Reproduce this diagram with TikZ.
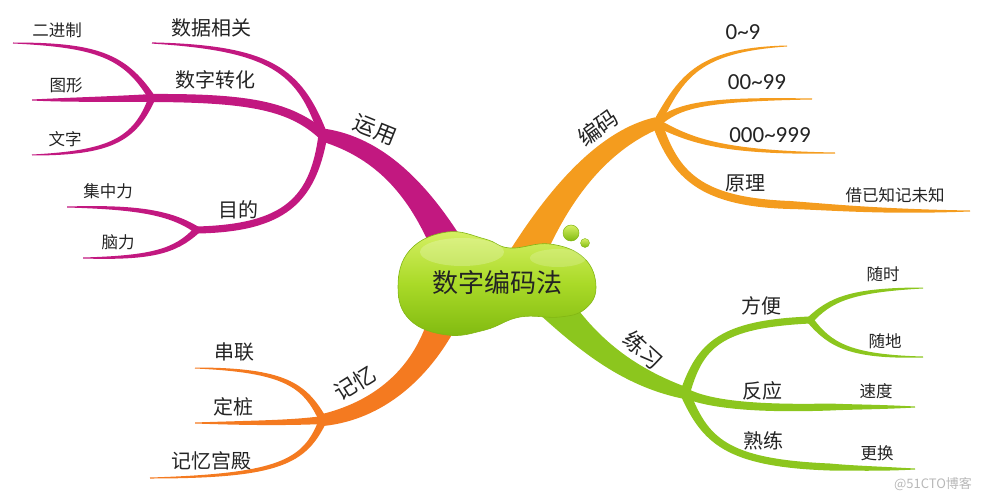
\documentclass[tikz,border=0pt]{standalone}
\usepackage{fontspec}
\setmainfont{Noto Sans CJK SC}
\newfontfamily\numfont{Carlito}
\usetikzlibrary{calc}
\definecolor{cMag}{RGB}{194,24,128}
\definecolor{cOra}{RGB}{244,156,30}
\definecolor{cGrn}{RGB}{140,198,30}
\definecolor{cRed}{RGB}{244,122,32}
\definecolor{blobTop}{RGB}{214,240,100}
\definecolor{blobMid}{RGB}{170,218,40}
\definecolor{blobBot}{RGB}{128,186,16}
\definecolor{blobEdge}{RGB}{130,182,20}
\definecolor{txt}{RGB}{35,35,35}
\newcommand{\mmbranch}[8]{%
  \fill[#1] ($(#5)!#2!90:(#6)$) .. controls ($(#6)!#3!90:(#7)$) and ($(#7)!#3!90:(#8)$) ..
    ($(#8)!#4!-90:(#7)$) -- ($(#8)!#4!90:(#7)$) .. controls ($(#7)!#3!-90:(#8)$) and ($(#6)!#3!-90:(#7)$) ..
    ($(#5)!#2!-90:(#6)$) -- cycle;}
\begin{document}
\begin{tikzpicture}[x=1pt,y=-1pt,
  lvl0/.style={inner sep=0pt,text=txt,font=\fontsize{26}{28}\selectfont},
  lvl1/.style={inner sep=0pt,text=txt,font=\fontsize{22}{24}\selectfont},
  lvl2/.style={inner sep=0pt,text=txt,font=\fontsize{20}{22}\selectfont},
  lvl3/.style={inner sep=0pt,text=txt,font=\fontsize{16.5}{18}\selectfont},
  num/.style={inner sep=0pt,text=txt,font=\numfont\fontsize{23}{25}\selectfont},
  wmark/.style={inner sep=0pt,text=black!28,font=\fontsize{13}{15}\selectfont}]
\useasboundingbox (0,0) rectangle (987,500);
% coordinates
\coordinate (mA) at (452,255);
\coordinate (J1) at (323,135);
\coordinate (J2) at (152,98);
\coordinate (J3) at (197,230);
\coordinate (t1) at (152,43);
\coordinate (t2) at (13,43);
\coordinate (t3) at (32,100);
\coordinate (t4) at (32,155);
\coordinate (t5) at (67,207);
\coordinate (t6) at (83,258);
\coordinate (oA) at (522,265);
\coordinate (J4) at (657,123);
\coordinate (J5) at (790,205);
\coordinate (t7) at (787,46);
\coordinate (t8) at (812,99);
\coordinate (t9) at (835,153);
\coordinate (t10) at (970,211);
\coordinate (gA) at (548,298);
\coordinate (J6) at (685,393);
\coordinate (J7) at (810,320);
\coordinate (J9) at (830,407);
\coordinate (J10) at (830,467);
\coordinate (t11) at (923,288);
\coordinate (t12) at (923,357);
\coordinate (t13) at (915,407);
\coordinate (t14) at (915,469);
\coordinate (rA) at (447,310);
\coordinate (J8) at (323,420);
\coordinate (t15) at (195,368);
\coordinate (t16) at (195,423);
\coordinate (t17) at (150,478);
% magenta
\mmbranch{cMag}{17pt}{11pt}{6.5pt}{mA}{420,190}{380,148}{J1}
\mmbranch{cMag}{4.5pt}{3pt}{0.6pt}{J1}{300,70}{270,48}{t1}
\mmbranch{cMag}{5pt}{4.5pt}{4pt}{J1}{290,106}{250,98}{J2}
\mmbranch{cMag}{4.5pt}{4pt}{3.5pt}{J1}{313,200}{285,228}{J3}
\mmbranch{cMag}{3.5pt}{2.5pt}{0.5pt}{J2}{125,55}{95,45}{t2}
\mmbranch{cMag}{4pt}{2.5pt}{0.5pt}{J2}{110,99}{70,100}{t3}
\mmbranch{cMag}{3.5pt}{2.5pt}{0.5pt}{J2}{135,140}{110,153}{t4}
\mmbranch{cMag}{3.5pt}{2.5pt}{0.5pt}{J3}{170,212}{135,207}{t5}
\mmbranch{cMag}{3.5pt}{2.5pt}{0.5pt}{J3}{175,252}{150,258}{t6}
% orange
\mmbranch{cOra}{18pt}{11pt}{6pt}{oA}{560,190}{605,140}{J4}
\mmbranch{cOra}{4pt}{2.5pt}{0.5pt}{J4}{682,75}{700,50}{t7}
\mmbranch{cOra}{4pt}{2.5pt}{0.5pt}{J4}{680,105}{705,99}{t8}
\mmbranch{cOra}{4pt}{2.5pt}{0.5pt}{J4}{690,140}{720,153}{t9}
\mmbranch{cOra}{5pt}{4.5pt}{4pt}{J4}{675,175}{700,202}{J5}
\mmbranch{cOra}{4pt}{3pt}{0.5pt}{J5}{830,207}{880,212}{t10}
% green
\mmbranch{cGrn}{18pt}{11pt}{6pt}{gA}{582,338}{622,375}{J6}
\mmbranch{cGrn}{5pt}{4pt}{3.5pt}{J6}{700,345}{720,324}{J7}
\mmbranch{cGrn}{5pt}{4pt}{3.5pt}{J6}{710,405}{760,409}{J9}
\mmbranch{cGrn}{3.5pt}{2.5pt}{0.5pt}{J9}{850,407}{880,407}{t13}
\mmbranch{cGrn}{5pt}{4pt}{3.5pt}{J6}{705,440}{725,463}{J10}
\mmbranch{cGrn}{3.5pt}{2.5pt}{0.5pt}{J10}{850,468}{880,469}{t14}
\mmbranch{cGrn}{3.5pt}{2.5pt}{0.5pt}{J7}{830,300}{850,290}{t11}
\mmbranch{cGrn}{3.5pt}{2.5pt}{0.5pt}{J7}{830,345}{850,357}{t12}
% red-orange
\mmbranch{cRed}{16pt}{10pt}{6pt}{rA}{425,372}{380,410}{J8}
\mmbranch{cRed}{4pt}{2.5pt}{0.5pt}{J8}{305,385}{285,370}{t15}
\mmbranch{cRed}{4pt}{2.5pt}{0.5pt}{J8}{290,423}{250,423}{t16}
\mmbranch{cRed}{4pt}{2.5pt}{0.5pt}{J8}{305,462}{280,476}{t17}
% central blob
\shade[top color=blobTop,bottom color=blobBot,middle color=blobMid,draw=blobEdge,line width=0.6pt]
  plot[smooth cycle,tension=0.7] coordinates {(398,287) (410,250) (447,232) (485,239) (510,248) (550,244) (584,258) (596,287) (585,309) (560,317) (520,317) (485,330) (447,335) (410,320)};
\fill[white,opacity=0.22] (462,252) ellipse (42 and 14);
\fill[white,opacity=0.18] (558,258) ellipse (28 and 9);
\shade[top color=blobTop,bottom color=blobBot,draw=blobEdge,line width=0.5pt] (571,233) circle (8);
\shade[top color=blobTop,bottom color=blobBot,draw=blobEdge,line width=0.4pt] (585,243) circle (4.5);
\node[lvl0] (root) at (497,283) {数字编码法};
% labels
\node[lvl1,rotate=-22] (yy) at (375,130) {运用};
\node[lvl1,rotate=36] (bm) at (598,128) {编码};
\node[lvl1,rotate=-42] (lx) at (643,350) {练习};
\node[lvl1,rotate=32] (jy) at (355,383) {记忆};
\node[lvl2] (sjxg) at (211,28) {数据相关};
\node[lvl2] (szzh) at (215,80) {数字转化};
\node[lvl2] (md) at (238,210) {目的};
\node[lvl3] (ejz) at (57,30) {二进制};
\node[lvl3] (tx) at (66,85) {图形};
\node[lvl3] (wz) at (65,139) {文字};
\node[lvl3] (jzl) at (108,191) {集中力};
\node[lvl3] (nl) at (118,242) {脑力};
\node[num] (n1) at (743,32) {0\char"7E 9};
\node[num] (n2) at (757,82) {00\char"7E 99};
\node[num] (n3) at (770,135) {000\char"7E 999};
\node[lvl2] (yl) at (745,183) {原理};
\node[lvl3] (jyz) at (895,195) {借已知记未知};
\node[lvl2] (fb) at (761,306) {方便};
\node[lvl3] (ss) at (883,274) {随时};
\node[lvl3] (sd) at (885,341) {随地};
\node[lvl2] (fy) at (762,391) {反应};
\node[lvl3] (sdu) at (876,391) {速度};
\node[lvl2] (sl) at (763,441) {熟练};
\node[lvl3] (gh) at (877,453) {更换};
\node[lvl2] (cl) at (234,352) {串联};
\node[lvl2] (dz) at (233,407) {定桩};
\node[lvl2] (jygd) at (211,461) {记忆宫殿};
\node[wmark] (wm) at (933,484) {@51CTO博客};
\end{tikzpicture}
\end{document}
